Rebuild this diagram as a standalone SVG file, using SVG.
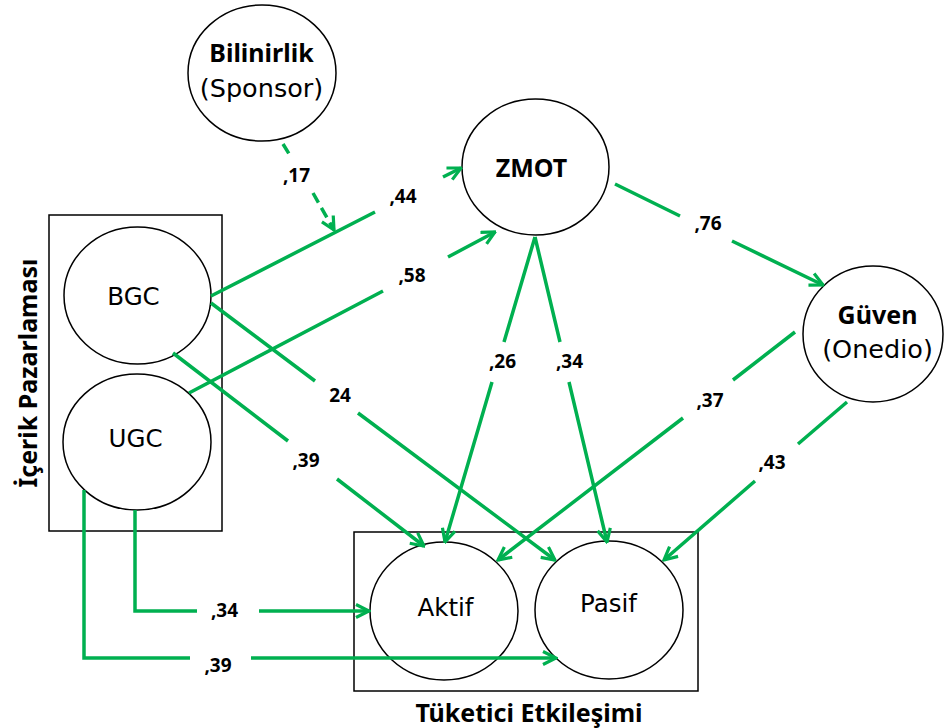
<svg xmlns="http://www.w3.org/2000/svg" width="944" height="728" viewBox="0 0 944 728">
<defs>
<style>
.n{fill:none;stroke:#000;stroke-width:1.5}
.b{fill:none;stroke:#000;stroke-width:1.5}
.t{font-family:"DejaVu Sans",Verdana,sans-serif;font-size:24.5px;fill:#000;text-anchor:middle}
.tp{font-family:"DejaVu Sans",Verdana,sans-serif;font-size:25.5px;fill:#000;text-anchor:middle}
.tb{font-family:"Noto Sans","Open Sans",sans-serif;font-weight:bold;font-size:25px;fill:#000;text-anchor:middle}
.l{font-family:"Noto Sans","Open Sans",sans-serif;font-weight:bold;font-size:19px;fill:#000;text-anchor:middle}
.c{fill:none;stroke:#00B050;stroke-width:3.5;marker-end:url(#ah)}
.d{stroke-dasharray:11 6}
</style>
<marker id="ah" markerUnits="userSpaceOnUse" viewBox="0 0 16 16" markerWidth="16" markerHeight="16" refX="14.5" refY="8" orient="auto">
<path d="M1.5,1.5 L14.5,8 L1.5,14.5" fill="none" stroke="#00B050" stroke-width="3.2" stroke-linejoin="miter"/>
</marker>
</defs>
<rect width="944" height="728" fill="#fff"/>

<g id="icerik-pazarlamasi">
<rect class="b" x="49" y="215" width="173" height="316"/>
<text class="tb" transform="translate(37,373) rotate(-90)" x="0" y="0">İçerik Pazarlaması</text>
</g>
<g id="tuketici-etkilesimi">
<rect class="b" x="354" y="532" width="344" height="159"/>
<text class="tb" x="529" y="722">Tüketici Etkileşimi</text>
</g>
<g id="bilinirlik">
<ellipse class="n" cx="262" cy="73" rx="74" ry="68"/>
<text class="tb" x="261.5" y="62">Bilinirlik</text>
<text class="tp" x="261.5" y="97">(Sponsor)</text>
</g>
<g id="zmot">
<ellipse class="n" cx="535.5" cy="167" rx="73.5" ry="68"/>
<text class="tb" x="531.5" y="177">ZMOT</text>
</g>
<g id="guven">
<ellipse class="n" cx="873" cy="334" rx="70" ry="68"/>
<text class="tb" x="877.5" y="324">Güven</text>
<text class="tp" x="877.5" y="358">(Onedio)</text>
</g>
<g id="bgc">
<ellipse class="n" cx="137.5" cy="295.5" rx="73.5" ry="68.5"/>
<text class="t" x="133.5" y="305">BGC</text>
</g>
<g id="ugc">
<ellipse class="n" cx="137" cy="442" rx="74" ry="68"/>
<text class="t" x="135.5" y="447">UGC</text>
</g>
<g id="aktif">
<ellipse class="n" cx="444" cy="611" rx="74" ry="69"/>
<text class="t" x="445.5" y="616">Aktif</text>
</g>
<g id="pasif">
<ellipse class="n" cx="609" cy="610" rx="74" ry="69"/>
<text class="t" x="608.5" y="612">Pasif</text>
</g>

<g id="connectors">
<path class="c d" d="M283,144 L291,157 M313,193 L334,230"/>
<path class="c" d="M211,296 L375,212 M443,177 L461,168"/>
<path class="c" d="M189,393 L383,291 M448,257 L495,232"/>
<path class="c" d="M211,303 L315,381 M358,413 L555,560"/>
<path class="c" d="M173,353 L288,441 M337,479 L424,546"/>
<path class="c" d="M535,237 L504,342 M492,382 L445,542"/>
<path class="c" d="M535,237 L560,342 M569,382 L607,542"/>
<path class="c" d="M615,184 L680,216 M732,241 L823,285"/>
<path class="c" d="M795,332 L733,380 M683,418 L498,560"/>
<path class="c" d="M847,402 L798,444 M755,481 L664,560"/>
<path class="c" d="M135,510 L135,611 L197,611 M259,611 L369,611"/>
<path class="c" d="M84,490 L84,658 L190,658 M251,658 L556,658"/>
<text class="l" x="296.5" y="182">,17</text>
<text class="l" x="403" y="203">,44</text>
<text class="l" x="412" y="282">,58</text>
<text class="l" x="340" y="402">24</text>
<text class="l" x="306" y="467">,39</text>
<text class="l" x="708" y="230">,76</text>
<text class="l" x="502.5" y="368">,26</text>
<text class="l" x="569.5" y="368">,34</text>
<text class="l" x="710" y="407">,37</text>
<text class="l" x="772" y="469">,43</text>
<text class="l" x="224.5" y="617">,34</text>
<text class="l" x="218" y="672">,39</text>
</g>
</svg>
